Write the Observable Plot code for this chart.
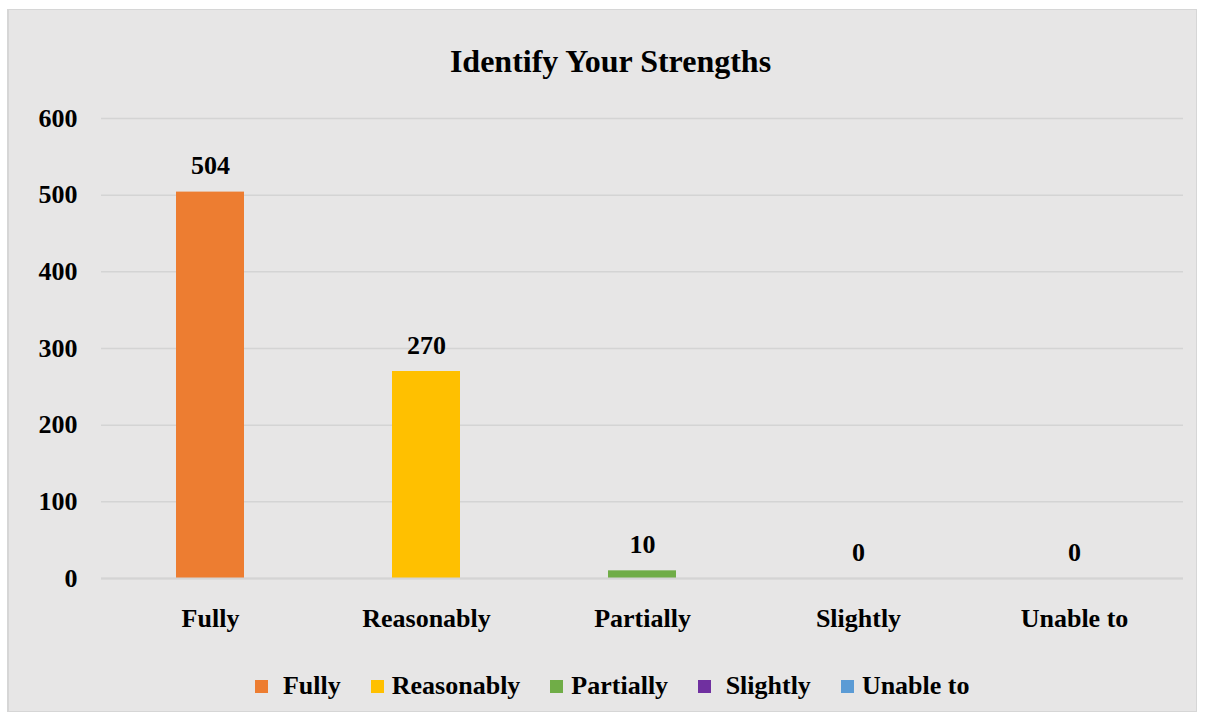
<!DOCTYPE html>
<html>
<head>
<meta charset="utf-8">
<script src="https://cdn.jsdelivr.net/npm/d3@7"></script>
<script src="https://cdn.jsdelivr.net/npm/@observablehq/plot@0.6"></script>
<style>
  html, body { margin: 0; padding: 0; background: #ffffff; }
  body { width: 1206px; height: 717px; position: relative; overflow: hidden; font-family: "Liberation Serif", "Times New Roman", serif; }
  #frame { position: absolute; left: 7px; top: 9px; width: 1187px; height: 701px; background: #e7e6e6; border: 1px solid #d6d6d6; border-left-width: 2px; }
  #title { text-align: center; font-weight: bold; font-size: 32px; line-height: 36px; padding-top: 33px; padding-left: 16px; height: 57px; color: #000; }
  #legend { display: flex; justify-content: center; align-items: center; font-weight: bold; font-size: 26px; line-height: 30px; padding-top: 17px; padding-left: 20px; color: #000; }
  .item { display: flex; align-items: center; margin: 0 15px; }
  .sw { width: 13px; height: 13px; margin-right: 8px; }
  svg { display: block; }
</style>
</head>
<body>
<div id="frame">
  <div id="title">Identify Your Strengths</div>
  <div id="chart"></div>
  <div id="legend"></div>
</div>
<script>
const categories = ["Fully", "Reasonably", "Partially", "Slightly", "Unable to"];
const values = [504, 270, 10, 0, 0];
const colors = ["#ED7D31", "#FFC000", "#70AD47", "#7030A0", "#5B9BD5"];
const yTicks = [0, 100, 200, 300, 400, 500, 600];
const legendLabels = [" Fully", "Reasonably", "Partially", " Slightly", "Unable to"];

const data = categories.map((c, i) => ({category: c, value: values[i]}));

const chart = Plot.plot({
  width: 1186,
  height: 554,
  marginTop: 18,
  marginBottom: 76,
  marginLeft: 92,
  marginRight: 12,
  style: {background: "transparent", fontFamily: "'Liberation Serif', 'Times New Roman', serif", fontSize: "26px", fontWeight: "bold", color: "#000"},
  x: {domain: categories, paddingInner: 0.686, paddingOuter: 0.343, label: null},
  y: {domain: [0, 600], ticks: yTicks, label: null},
  color: {domain: categories, range: colors},
  marks: [
    Plot.gridY(yTicks, {stroke: "#d4d4d4", strokeOpacity: 1, strokeWidth: 1.5}),
    Plot.barY(data, {x: "category", y: "value", fill: "category"}),
    Plot.ruleY([0], {stroke: "#d4d4d4", strokeWidth: 2}),
    Plot.text(data, {x: "category", y: "value", text: d => String(d.value), dy: -26, fill: "#000", fontSize: 26, fontWeight: "bold"}),
    Plot.axisY(yTicks, {tickSize: 0, tickPadding: 24, fontSize: 26, fontWeight: "bold", fill: "#000", label: null}),
    Plot.axisX({tickSize: 0, tickPadding: 30, fontSize: 26, fontWeight: "bold", fill: "#000", label: null})
  ]
});
document.getElementById("chart").appendChild(chart);

const legend = document.getElementById("legend");
categories.forEach((c, i) => {
  const item = document.createElement("div");
  item.className = "item";
  const sw = document.createElement("span");
  sw.className = "sw";
  sw.style.background = colors[i];
  const t = document.createElement("span");
  t.style.whiteSpace = "pre";
  t.textContent = legendLabels[i];
  item.appendChild(sw);
  item.appendChild(t);
  legend.appendChild(item);
});
</script>
</body>
</html>
